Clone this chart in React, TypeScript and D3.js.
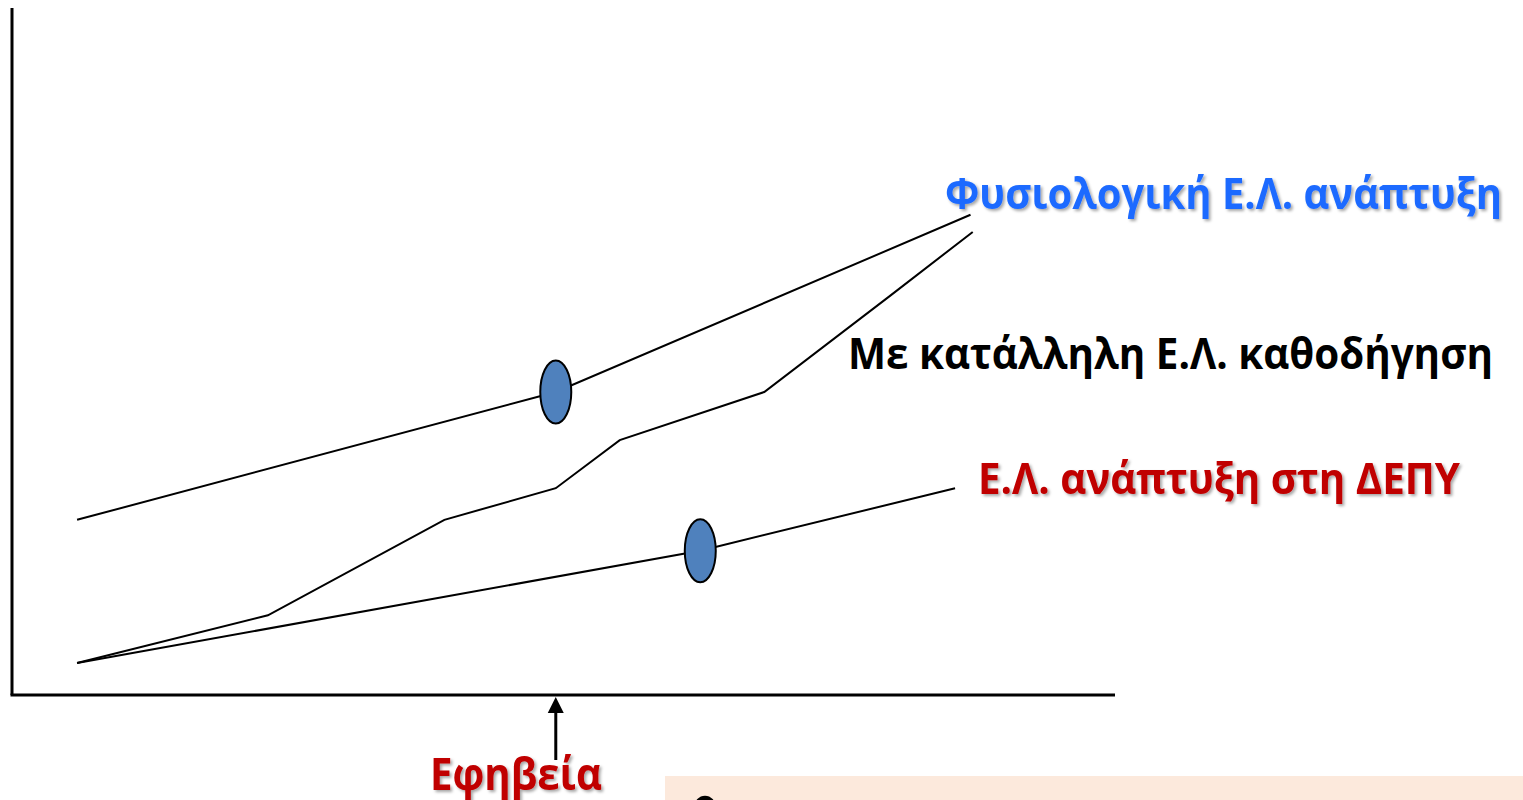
import React from "react";
import * as d3 from "d3";

// Abstract units: x and y from 0 to 100 along the axes
const typicalX = [5.9, 49.3, 86.9];
const typicalY = [25.5, 44.1, 69.9];
const guidedX = [5.9, 23.2, 39.2, 49.3, 55.1, 68.2, 79.6, 87.1];
const guidedY = [4.66, 11.6, 25.5, 30.1, 37.1, 44.1, 58.1, 67.4];
const adhdX = [5.9, 62.4, 85.5];
const adhdY = [4.66, 21.0, 30.1];
const markerX = [49.3, 62.4];
const markerY = [44.1, 21.0];
const pubertyX = 49.3;
const labels = [
  "Φυσιολογική Ε.Λ. ανάπτυξη",
  "Με κατάλληλη Ε.Λ. καθοδήγηση",
  "Ε.Λ. ανάπτυξη στη ΔΕΠΥ",
  "Εφηβεία",
];

const W = 1523;
const H = 800;

export default function App() {
  const x = d3.scaleLinear().domain([0, 100]).range([12, 1115]);
  const y = d3.scaleLinear().domain([0, 100]).range([695, 8]);
  const line = d3
    .line<[number, number]>()
    .x((d) => x(d[0]))
    .y((d) => y(d[1]));
  const zip = (a: number[], b: number[]) =>
    a.map((v, i) => [v, b[i]] as [number, number]);
  const font = "'Open Sans', sans-serif";
  const ax = x(pubertyX);
  const ay = y(0) + 2;
  return (
    <div style={{ position: "absolute", left: 0, top: 0, width: W, height: H, overflow: "hidden" }}>
      <svg width={W} height={H} style={{ display: "block", background: "#fff" }}>
        <defs>
          <filter id="sh" x="-5%" y="-20%" width="110%" height="150%">
            <feDropShadow dx="2" dy="2" stdDeviation="1.5" floodColor="#000" floodOpacity="0.35" />
          </filter>
        </defs>
        {/* bottom panel */}
        <rect x={665} y={776} width={W - 665} height={40} fill="#FCE9DC" />
        <ellipse cx={705} cy={807} rx={8.5} ry={9} fill="none" stroke="#000" strokeWidth={4.5} />
        {/* axes */}
        <line x1={x(0)} y1={y(100)} x2={x(0)} y2={y(0)} stroke="#000" strokeWidth={3} />
        <line x1={x(0) - 1.5} y1={y(0)} x2={x(100)} y2={y(0)} stroke="#000" strokeWidth={3} />
        {/* lines */}
        <path d={line(zip(typicalX, typicalY)) || ""} fill="none" stroke="#000" strokeWidth={2} />
        <path d={line(zip(guidedX, guidedY)) || ""} fill="none" stroke="#000" strokeWidth={2} />
        <path d={line(zip(adhdX, adhdY)) || ""} fill="none" stroke="#000" strokeWidth={2} />
        {markerX.map((mx, i) => (
          <ellipse key={i} cx={x(mx)} cy={y(markerY[i])} rx={15.5} ry={31.5} fill="#4F81BD" stroke="#000" strokeWidth={2} />
        ))}
        {/* puberty arrow */}
        <line x1={ax} y1={760} x2={ax} y2={ay + 12} stroke="#000" strokeWidth={3} />
        <path d={`M${ax},${ay} L${ax + 8},${ay + 16} L${ax - 8},${ay + 16} Z`} fill="#000" />
        {/* labels */}
        <text x={945} y={209} fontFamily={font} fontWeight={700} fontSize={43} fill="#1F6BFF" filter="url(#sh)" textLength={557} lengthAdjust="spacingAndGlyphs">{labels[0]}</text>
        <text x={848} y={369} fontFamily={font} fontWeight={700} fontSize={43} fill="#000" textLength={645} lengthAdjust="spacingAndGlyphs">{labels[1]}</text>
        <text x={978} y={494} fontFamily={font} fontWeight={700} fontSize={43} fill="#C00000" filter="url(#sh)" textLength={482} lengthAdjust="spacingAndGlyphs">{labels[2]}</text>
        <text x={430} y={790} fontFamily={font} fontWeight={700} fontSize={45} fill="#C00000" filter="url(#sh)" textLength={172} lengthAdjust="spacingAndGlyphs">{labels[3]}</text>
      </svg>
    </div>
  );
}
